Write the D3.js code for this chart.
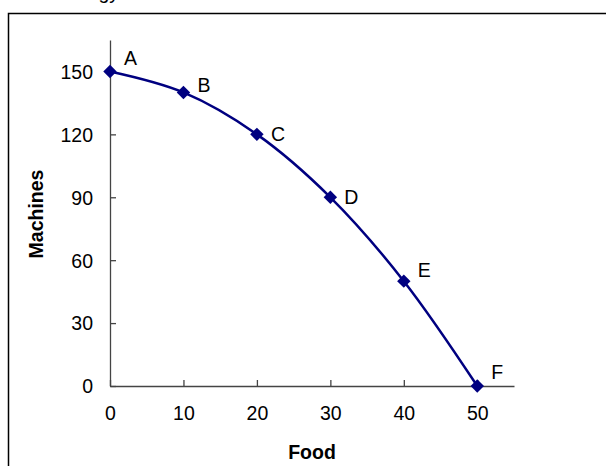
<!DOCTYPE html>
<html lang="en">
<head>
    <meta charset="UTF-8">
    <title>Production possibilities</title>
    <script src="https://cdn.jsdelivr.net/npm/d3@7"></script>
    <style>
        body { margin: 0; background: #fff; }
        text { font-family: "Liberation Sans", Arial, sans-serif; }
    </style>
</head>
<body>
<svg></svg>
<script>
    var width = 606;
    var height = 466;

    // data
    var pointNames = ['A', 'B', 'C', 'D', 'E', 'F'];
    var food = [0, 10, 20, 30, 40, 50];
    var machines = [150, 140, 120, 90, 50, 0];
    var xTicks = [0, 10, 20, 30, 40, 50];
    var yTicks = [0, 30, 60, 90, 120, 150];

    var fs = '19.5px';

    var svg = d3.select('svg')
        .attr('width', width)
        .attr('height', height);

    // title sits mostly above the window, only its tail shows
    svg.append('text')
        .attr('x', 119).attr('y', -1)
        .attr('text-anchor', 'end')
        .style('font-size', fs)
        .text('Technology');

    svg.append('rect')
        .attr('x', 8.5).attr('y', 13.5)
        .attr('width', 700).attr('height', 500)
        .attr('fill', 'none')
        .attr('stroke', '#000')
        .attr('stroke-width', 1.5);

    var x = d3.scaleLinear().domain([0, 55]).range([110, 514]);
    var y = d3.scaleLinear().domain([0, 165]).range([386, 40]);

    // axes (ticks point inward, like excel)
    var xAxis = svg.append('g')
        .attr('transform', 'translate(0,' + y(0) + ')')
        .call(d3.axisBottom(x).tickValues(xTicks).tickSizeInner(-6).tickSizeOuter(0).tickPadding(20));
    var yAxis = svg.append('g')
        .attr('transform', 'translate(' + x(0) + ',0)')
        .call(d3.axisLeft(y).tickValues(yTicks).tickSizeInner(-6).tickSizeOuter(0).tickPadding(17));

    [xAxis, yAxis].forEach(function (g) {
        g.select('.domain').attr('stroke', '#444').attr('stroke-width', 1.3);
        g.selectAll('.tick line').attr('stroke', '#444').attr('stroke-width', 1.3);
        g.selectAll('.tick text')
            .style('font-size', fs)
            .style('font-family', '"Liberation Sans", Arial, sans-serif')
            .attr('fill', '#000');
    });
    yAxis.selectAll('.tick text').attr('dy', '0.35em');

    // axis titles
    svg.append('text')
        .attr('x', x(27.5)).attr('y', 459)
        .attr('text-anchor', 'middle')
        .style('font-size', fs).style('font-weight', 'bold')
        .text('Food');
    svg.append('text')
        .attr('transform', 'translate(43,' + 214 + ') rotate(-90)')
        .attr('text-anchor', 'middle')
        .style('font-size', fs).style('font-weight', 'bold')
        .text('Machines');

    var pts = food.map(function (f, i) {
        return { name: pointNames[i], x: f, y: machines[i] };
    });

    // smoothed curve
    var line = d3.line()
        .x(function (d) { return x(d.x); })
        .y(function (d) { return y(d.y); })
        .curve(d3.curveCatmullRom.alpha(0.5));

    svg.append('path')
        .datum(pts)
        .attr('d', line)
        .attr('fill', 'none')
        .attr('stroke', '#000080')
        .attr('stroke-width', 2.5);

    // diamond markers
    var sq = d3.symbol().type(d3.symbolSquare).size(90);
    svg.selectAll('.mk')
        .data(pts)
        .enter()
        .append('path')
        .attr('class', 'mk')
        .attr('d', sq)
        .attr('transform', function (d) {
            return 'translate(' + x(d.x) + ',' + y(d.y) + ') rotate(45)';
        })
        .attr('fill', '#000080');

    // labels, nudged up a bit where excel moved them
    var lift = { A: 13, B: 7, C: 0, D: 0, E: 11, F: 14 };
    svg.selectAll('.lbl')
        .data(pts)
        .enter()
        .append('text')
        .attr('class', 'lbl')
        .attr('x', function (d) { return x(d.x) + 14; })
        .attr('y', function (d) { return y(d.y) - lift[d.name]; })
        .attr('dy', '0.35em')
        .style('font-size', fs)
        .text(function (d) { return d.name; });
</script>
</body>
</html>
